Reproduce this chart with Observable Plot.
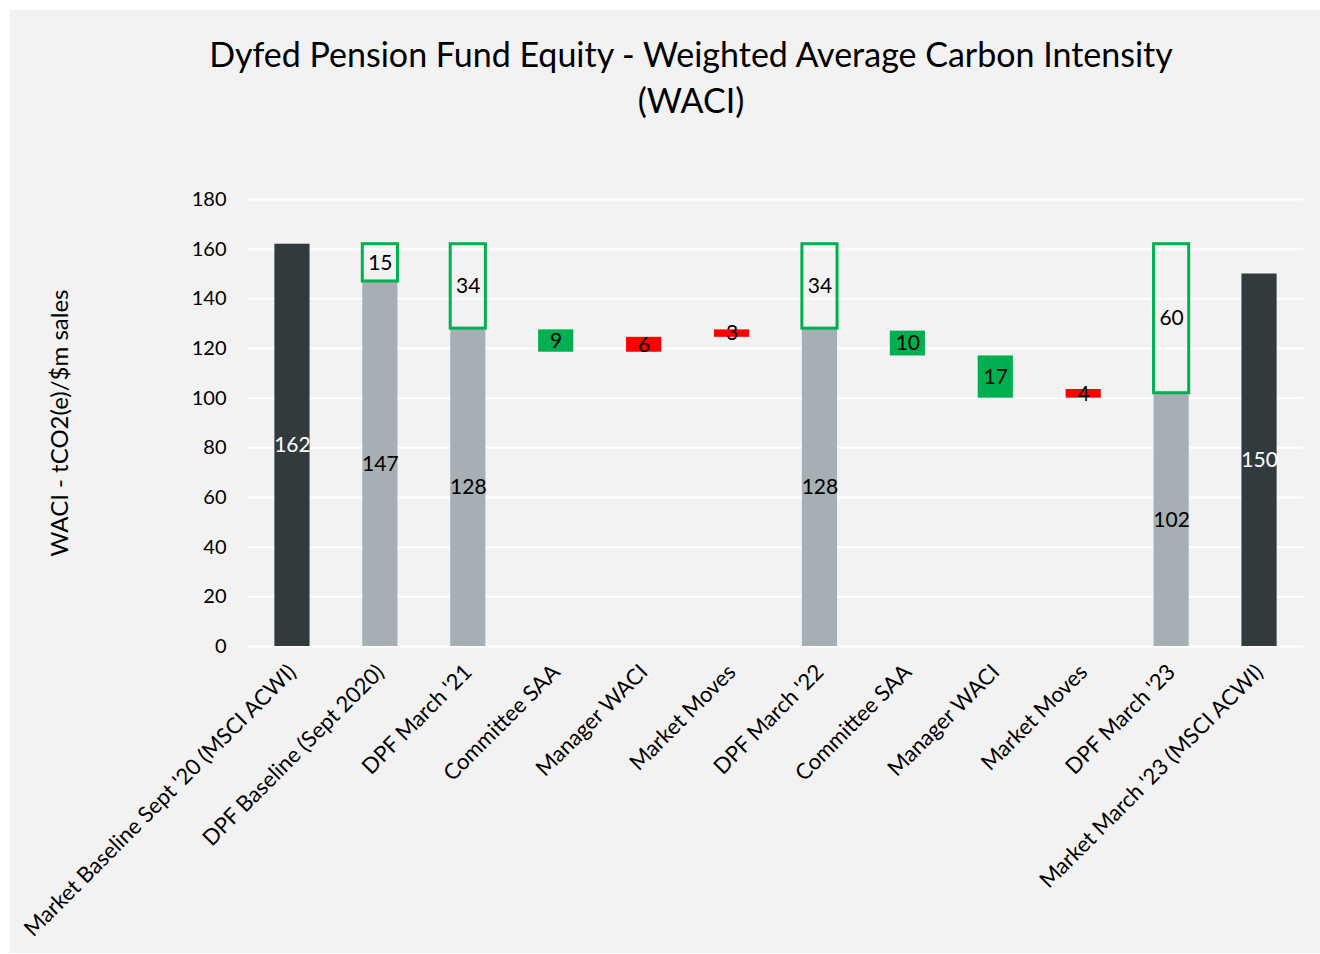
<!DOCTYPE html>
<html><head><meta charset="utf-8">
<script src="https://cdn.jsdelivr.net/npm/d3@7"></script>
<script src="https://cdn.jsdelivr.net/npm/@observablehq/plot@0.6"></script>
<style>
html,body{margin:0;padding:0;background:#fff;}
#panel{position:absolute;left:10px;top:10px;width:1310px;height:943px;background:#f2f2f2;font-family:Lato,"Open Sans",sans-serif;overflow:hidden;}
#title{position:absolute;left:181px;top:21px;width:1000px;text-align:center;font-size:34px;line-height:46px;color:#000;}
#chart{position:absolute;left:0;top:140px;}
#chart svg g[aria-label="x-axis tick label"] text{font-size:22px;}
#chart svg g[aria-label="y-axis label"] text{font-size:24px;}
</style>
</head><body>
<div id="panel">
  <div id="title">Dyfed Pension Fund Equity - Weighted Average Carbon Intensity<br>(WACI)</div>
  <div id="chart"></div>
</div>
<script>
// Categories (x axis tick labels)
const categories = ["Market Baseline Sept '20 (MSCI ACWI)", "DPF Baseline (Sept 2020)", "DPF March '21", "Committee SAA", "Manager WACI", "Market Moves", "DPF March '22", "Committee SAA", "Manager WACI", "Market Moves", "DPF March '23", "Market March '23 (MSCI ACWI)"];
// Solid bars: bottom and top values, labels and kind
const barLow  = [0, 0, 0, 118.5, 118.5, 124.5, 0, 117, 100, 100, 0, 0];
const barHigh = [162, 147, 128, 127.5, 124.5, 127.5, 128, 127, 117, 103.5, 102, 150];
const barLabel = ["162", "147", "128", "9", "6", "3", "128", "10", "17", "4", "102", "150"];
const barKind = ["market", "dpf", "dpf", "decrease", "increase", "increase", "dpf", "decrease", "decrease", "increase", "dpf", "market"];
// Outlined reduction boxes
const boxIndex = [1, 2, 6, 10];
const boxLow = [147, 128, 128, 102];
const boxHigh = [162, 162, 162, 162];
const boxLabel = ["15", "34", "34", "60"];
// Y axis ticks
const yTicks = [0, 20, 40, 60, 80, 100, 120, 140, 160, 180];

const kindColor = {market: "#323a3d", dpf: "#a6afb4", decrease: "#00b050", increase: "#ff0000"};
const kindText = {market: "#ffffff", dpf: "#000000", decrease: "#000000", increase: "#000000"};

const bars = categories.map((c, i) => ({i, lo: barLow[i], hi: barHigh[i], label: barLabel[i], fill: kindColor[barKind[i]], tfill: kindText[barKind[i]]}));
const boxes = boxIndex.map((i, k) => ({i, lo: boxLow[k], hi: boxHigh[k], label: boxLabel[k]}));

const chart = Plot.plot({
  width: 1310, height: 803,
  marginLeft: 238, marginRight: 17, marginTop: 49, marginBottom: 307,
  style: {background: "transparent", fontFamily: "Lato, 'Open Sans', sans-serif", fontSize: "20px", color: "#000", overflow: "visible"},
  color: {type: "identity"},
  x: {domain: d3.range(categories.length), paddingInner: 0.6, paddingOuter: 0.3, round: false, tickFormat: i => categories[i], tickRotate: -45, tickSize: 0, tickPadding: 22, label: null},
  y: {domain: [0, 180], ticks: yTicks, tickSize: 0, tickPadding: 22, label: "WACI - tCO2(e)/$m sales", labelAnchor: "center", labelArrow: "none", labelOffset: 198},
  marks: [
    Plot.ruleY(yTicks, {stroke: "#ffffff", strokeWidth: 2}),
    Plot.barY(bars, {x: "i", y1: "lo", y2: "hi", fill: "fill"}),
    Plot.barY(boxes, {x: "i", y1: "lo", y2: "hi", fill: "none", stroke: "#00b050", strokeWidth: 3}),
    Plot.text(bars, {x: "i", y: d => (d.lo + d.hi) / 2, text: "label", fill: "tfill", fontSize: 21}),
    Plot.text(boxes, {x: "i", y: d => (d.lo + d.hi) / 2, text: "label", fill: "#000", fontSize: 21})
  ]
});
document.getElementById("chart").appendChild(chart);
</script>
</body></html>
